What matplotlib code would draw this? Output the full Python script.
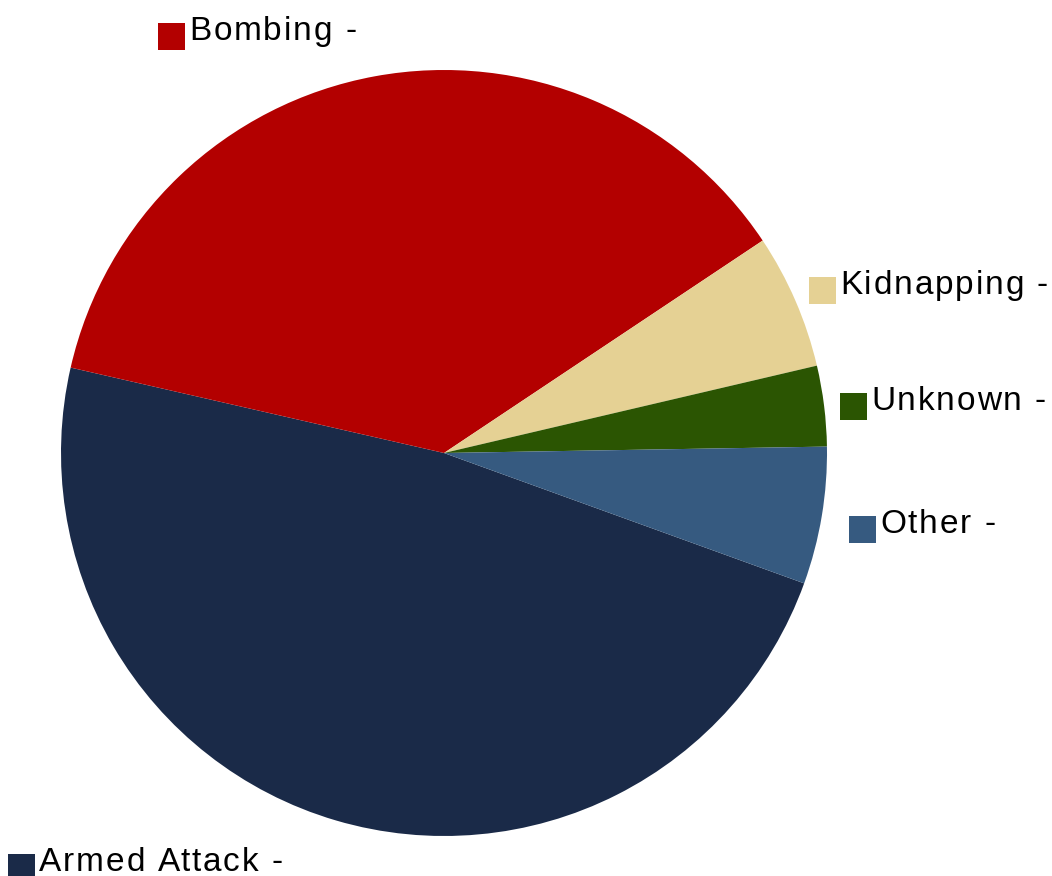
import matplotlib
matplotlib.use('Agg')
import matplotlib.pyplot as plt
from matplotlib.patches import Rectangle
from matplotlib.font_manager import FontProperties
from matplotlib.textpath import text_to_path

# slice data (percent of incidents)
labels = ['Armed Attack', 'Bombing', 'Kidnapping', 'Unknown', 'Other']
values = [48.1, 37.1, 5.7, 3.4, 5.8]
colors = ['#1a2a48', '#b30000', '#e5d194', '#2b5502', '#365a80']

# label anchor positions in pixels (square left, text baseline), from top-left
label_pos = {
    'Armed Attack': (8, 871),
    'Bombing': (158, 40),
    'Kidnapping': (809, 294),
    'Unknown': (840, 410),
    'Other': (849, 533),
}

W, H = 1052, 876
fig = plt.figure(figsize=(W / 100, H / 100), dpi=100)

# pie centre and radius in pixels
cx, cy, r = 444, 453, 383
ax = fig.add_axes([(cx - r) / W, (H - cy - r) / H, 2 * r / W, 2 * r / H])
ax.pie(values, colors=colors, startangle=-19.9, counterclock=False,
       radius=1, wedgeprops=dict(edgecolor='none'))
ax.set_xlim(-1, 1)
ax.set_ylim(-1, 1)
ax.set_aspect('equal')
ax.axis('off')

fs = 24
prop = FontProperties(family='Liberation Sans', size=fs)
spacing = 1.9  # extra px between letters, reference text is spaced out


def spaced_text(x, y, s):
    # draw one char at a time so the letters get extra tracking
    for i, ch in enumerate(s):
        w = text_to_path.get_text_width_height_descent(s[:i], prop, ismath=False)[0] if i else 0
        px = x + w * 100 / 72 + i * spacing
        fig.text(px / W, (H - y) / H, ch, fontproperties=prop,
                 color='black', ha='left', va='baseline')


sq = 27
for lab, col in zip(labels, colors):
    x, base = label_pos[lab]
    # square sits a bit below the baseline
    fig.patches.append(Rectangle((x / W, (H - base - 10) / H), sq / W, sq / H,
                                 transform=fig.transFigure, facecolor=col,
                                 edgecolor='none'))
    spaced_text(x + sq + 4, base, lab + ' -')

fig.savefig('out.png', dpi=100, facecolor='white')
